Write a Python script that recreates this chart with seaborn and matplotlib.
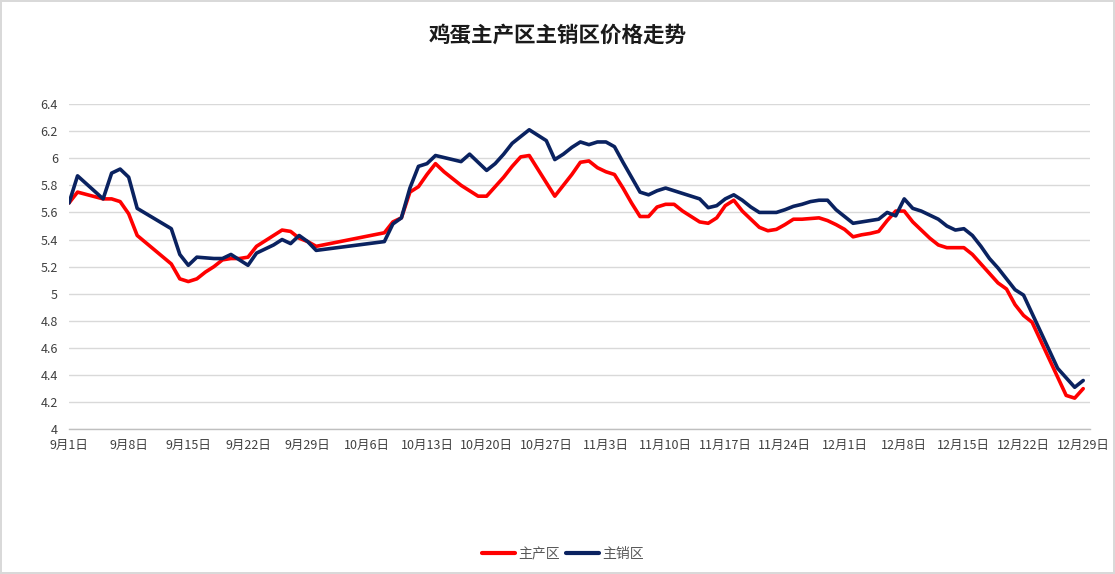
import numpy as np
import pandas as pd
import seaborn as sns
import matplotlib.pyplot as plt
import matplotlib.dates as mdates
from matplotlib.ticker import FuncFormatter, FixedLocator

# dates (2024) with data points; 10/1-10/7 holiday gap
dates = ["09-01", "09-02", "09-05", "09-06", "09-07", "09-08", "09-09",
         "09-13", "09-14", "09-15", "09-16", "09-17", "09-18", "09-19", "09-20",
         "09-21", "09-22", "09-23", "09-24", "09-25", "09-26", "09-27", "09-28",
         "09-29", "09-30",
         "10-08", "10-09", "10-10", "10-11", "10-12", "10-13", "10-14", "10-15",
         "10-16", "10-17", "10-18", "10-19", "10-20", "10-21", "10-22", "10-23",
         "10-24", "10-25", "10-26", "10-27", "10-28", "10-29", "10-30", "10-31",
         "11-01", "11-02", "11-03", "11-04", "11-05", "11-06", "11-07", "11-08",
         "11-09", "11-10", "11-11", "11-12", "11-13", "11-14", "11-15", "11-16",
         "11-17", "11-18", "11-19", "11-20", "11-21", "11-22", "11-23", "11-24",
         "11-25", "11-26", "11-27", "11-28", "11-29", "11-30", "12-01", "12-02",
         "12-03", "12-04", "12-05", "12-06", "12-07", "12-08", "12-09", "12-10",
         "12-11", "12-12", "12-13", "12-14", "12-15", "12-16", "12-17", "12-18",
         "12-19", "12-20", "12-21", "12-22", "12-23", "12-24", "12-25", "12-26",
         "12-27", "12-28", "12-29"]

main_produce = [5.67, 5.75, 5.70, 5.70, 5.68, 5.59, 5.43,
                5.22, 5.11, 5.09, 5.11, 5.16, 5.20, 5.25, 5.26,
                5.26, 5.27, 5.35, 5.39, 5.43, 5.47, 5.46, 5.41,
                5.385, 5.35,
                5.45, 5.53, 5.56, 5.75, 5.79, 5.88, 5.96, 5.90,
                5.85, 5.80, 5.76, 5.72, 5.72, 5.79, 5.86, 5.94,
                6.01, 6.02, 5.92, 5.82, 5.72, 5.80, 5.88, 5.97,
                5.98, 5.93, 5.90, 5.88, 5.78, 5.67, 5.57, 5.57,
                5.64, 5.66, 5.66, 5.61, 5.57, 5.53, 5.52, 5.56,
                5.65, 5.69, 5.61, 5.55, 5.49, 5.465, 5.475, 5.51,
                5.55, 5.55, 5.555, 5.56, 5.54, 5.51, 5.475, 5.42,
                5.435, 5.445, 5.46, 5.54, 5.61, 5.61, 5.53, 5.47,
                5.41, 5.36, 5.34, 5.34, 5.34, 5.29, 5.22, 5.15,
                5.08, 5.035, 4.92, 4.84, 4.79, 4.655, 4.52, 4.385,
                4.25, 4.23, 4.30]

main_sales = [5.67, 5.87, 5.70, 5.89, 5.92, 5.86, 5.63,
              5.48, 5.29, 5.21, 5.27, 5.265, 5.26, 5.26, 5.29,
              5.25, 5.21, 5.30, 5.33, 5.36, 5.40, 5.37, 5.43,
              5.385, 5.32,
              5.385, 5.515, 5.56, 5.78, 5.94, 5.96, 6.02, 6.005,
              5.99, 5.975, 6.03, 5.97, 5.91, 5.96, 6.03, 6.11,
              6.16, 6.21, 6.17, 6.13, 5.99, 6.03, 6.08, 6.12,
              6.10, 6.12, 6.12, 6.085, 5.97, 5.86, 5.75, 5.73,
              5.76, 5.78, 5.76, 5.74, 5.72, 5.70, 5.635, 5.65,
              5.70, 5.73, 5.69, 5.64, 5.60, 5.60, 5.60, 5.62,
              5.645, 5.66, 5.68, 5.69, 5.69, 5.62, 5.57, 5.52,
              5.53, 5.54, 5.55, 5.60, 5.575, 5.70, 5.63, 5.61,
              5.58, 5.55, 5.50, 5.47, 5.48, 5.43, 5.35, 5.26,
              5.19, 5.11, 5.03, 4.99, 4.855, 4.72, 4.585, 4.45,
              4.38, 4.31, 4.36]

series_names = ["主产区", "主销区"]
colors = ["#FF0000", "#0A2260"]
tick_dates = ["09-01", "09-08", "09-15", "09-22", "09-29", "10-06", "10-13",
              "10-20", "10-27", "11-03", "11-10", "11-17", "11-24", "12-01",
              "12-08", "12-15", "12-22", "12-29"]
y_ticks = [4, 4.2, 4.4, 4.6, 4.8, 5, 5.2, 5.4, 5.6, 5.8, 6, 6.2, 6.4]

x = pd.to_datetime(["2024-" + d for d in dates])
df = pd.DataFrame({
    "date": np.concatenate([x, x]),
    "price": main_produce + main_sales,
    "area": [series_names[0]] * len(x) + [series_names[1]] * len(x),
})

sns.set_style("white")
plt.rcParams['font.family'] = ['Noto Sans CJK SC', 'DejaVu Sans']

fig = plt.figure(figsize=(11.15, 5.74), dpi=100)
fig.patch.set_edgecolor("#d9d9d9")
fig.patch.set_linewidth(1.5)
ax = fig.add_axes([0.0619, 0.2521, 0.9157, 0.5667])

sns.lineplot(data=df, x="date", y="price", hue="area", palette=colors,
             linewidth=2.6, ax=ax, legend=False)

start = pd.Timestamp("2024-09-01")
ax.set_xlim(start, start + pd.Timedelta(days=119.8))
ax.set_ylim(4, 6.4)

tks = pd.to_datetime(["2024-" + d for d in tick_dates])
ax.xaxis.set_major_locator(FixedLocator(mdates.date2num(tks)))
ax.set_xticklabels([f"{t.month}月{t.day}日" for t in tks])
ax.set_yticks(y_ticks)
ax.yaxis.set_major_formatter(FuncFormatter(lambda v, p: f"{v:g}"))

ax.grid(axis="y", color="#d9d9d9", linewidth=1)
ax.grid(axis="x", visible=False)
for s in ["top", "right", "left"]:
    ax.spines[s].set_visible(False)
ax.spines["bottom"].set_color("#bfbfbf")
ax.spines["bottom"].set_linewidth(1)

ax.tick_params(axis="x", direction="out", length=5, width=1, color="#bfbfbf",
               pad=2, labelsize=9, labelcolor="#404040")
ax.tick_params(axis="y", length=0, pad=8, labelsize=9, labelcolor="#404040")
ax.set_xlabel("")
ax.set_ylabel("")

fig.text(0.5, 0.938, "鸡蛋主产区主销区价格走势", ha="center", va="center",
         fontsize=15.5, fontweight="bold", color="#1a1a1a")

handles = [plt.Line2D([], [], color=c, linewidth=3) for c in colors]
fig.legend(handles, series_names, loc="center", bbox_to_anchor=(0.505, 0.035),
           ncol=2, frameon=False, fontsize=10, handlelength=2.4,
           columnspacing=0.4, handletextpad=0.25, labelcolor="#595959")

plt.savefig("out.png", dpi=100, edgecolor=fig.get_edgecolor())
